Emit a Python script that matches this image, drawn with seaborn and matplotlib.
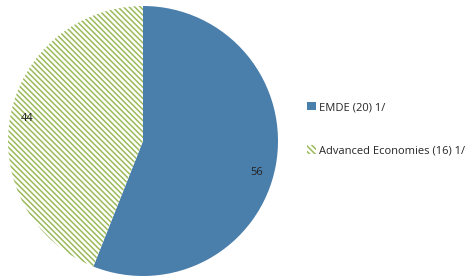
import seaborn as sns
import matplotlib.pyplot as plt
from matplotlib.patches import Patch

# Shares of total (percent)
categorias = ["EMDE (20) 1/", "Advanced Economies (16) 1/"]
valores = [56, 44]
colores = ["#4A7EAB", "#9BBB59"]
trama = "\\" * 6

sns.set_theme(style="white")
plt.rcParams["font.family"] = ["Open Sans", "DejaVu Sans"]
plt.rcParams["hatch.linewidth"] = 1.1

fig = plt.figure(figsize=(4.73, 2.78), dpi=100)
ax = fig.add_axes([8 / 473, 2 / 278, 270 / 473, 270 / 278])

wedges, textos, autotextos = ax.pie(
    valores, startangle=90, counterclock=False,
    autopct=lambda p: f"{p:.0f}", pctdistance=0.87,
    textprops={"fontsize": 8, "color": "#222222"},
    wedgeprops={"linewidth": 0},
)
wedges[0].set_facecolor(colores[0])
wedges[0].set_edgecolor(colores[0])
wedges[1].set_facecolor("white")
wedges[1].set_edgecolor(colores[1])
wedges[1].set_hatch(trama)
# la etiqueta de EMDE queda un poco mas abajo en el original
x0, y0 = autotextos[0].get_position()
autotextos[0].set_position((x0 - 0.01, y0 - 0.07))
ax.set_xlim(-1, 1)
ax.set_ylim(-1, 1)
ax.set_aspect("equal")

handles = [
    Patch(facecolor=colores[0], edgecolor=colores[0], linewidth=0),
    Patch(facecolor="white", edgecolor=colores[1], hatch=trama, linewidth=0),
]
fig.legend(handles, categorias, loc="upper left", bbox_to_anchor=(297 / 473, 1 - 92 / 278),
           frameon=False, fontsize=8, labelspacing=2.9, handlelength=0.8, handleheight=0.8,
           handletextpad=0.3)

plt.savefig("out.png", dpi=100)
plt.close()
